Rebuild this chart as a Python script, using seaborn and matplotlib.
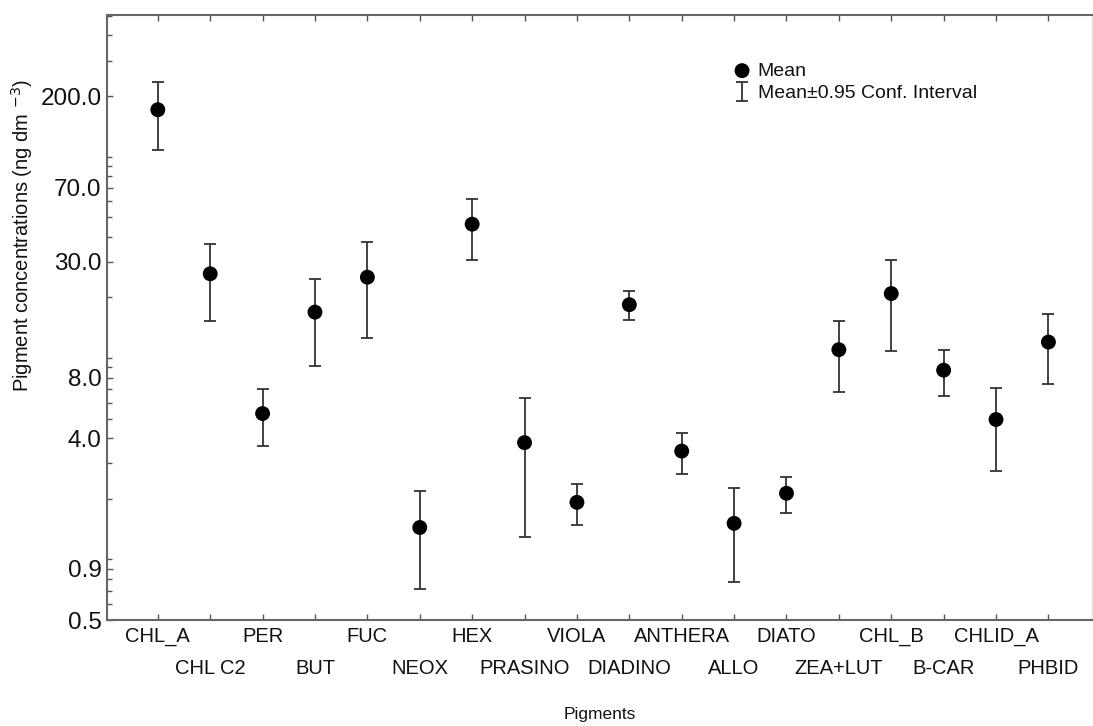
import numpy as np
import pandas as pd
import seaborn as sns
import matplotlib
matplotlib.use("Agg")
import matplotlib.pyplot as plt
from matplotlib.ticker import FixedLocator, FixedFormatter, LogLocator, NullFormatter

# Pigment means with lower / upper 95% confidence limits (ng dm-3)
pigments = ["CHL_A", "CHL C2", "PER", "BUT", "FUC", "NEOX", "HEX", "PRASINO",
            "VIOLA", "DIADINO", "ANTHERA", "ALLO", "DIATO", "ZEA+LUT", "CHL_B",
            "B-CAR", "CHLID_A", "PHBID"]
mean_vals = [171.0, 26.2, 5.3, 16.9, 25.2, 1.44, 46.2, 3.8,
             1.92, 18.4, 3.45, 1.51, 2.13, 11.0, 20.9, 8.7, 4.95, 12.0]
ci_low = [108.0, 15.2, 3.65, 9.1, 12.6, 0.71, 30.6, 1.29,
          1.48, 15.5, 2.65, 0.77, 1.69, 6.8, 10.8, 6.5, 2.75, 7.4]
ci_high = [234.0, 36.9, 7.0, 24.8, 37.7, 2.19, 61.9, 6.3,
           2.37, 21.4, 4.25, 2.25, 2.57, 15.2, 30.8, 11.0, 7.1, 16.6]

y_ticks = [0.5, 0.9, 4.0, 8.0, 30.0, 70.0, 200.0]
y_tick_labels = ["0.5", "0.9", "4.0", "8.0", "30.0", "70.0", "200.0"]

df = pd.DataFrame({"pigment": pigments, "mean": mean_vals,
                   "low": ci_low, "high": ci_high})

sns.set_theme(style="ticks")
plt.rcParams["font.family"] = ["Liberation Sans", "DejaVu Sans"]
plt.rcParams["text.color"] = "#111111"
plt.rcParams["axes.labelcolor"] = "#111111"

fig = plt.figure(figsize=(10.93, 7.26), dpi=100)
ax = fig.add_axes([0.0979, 0.146, 0.9011, 0.8333])

xpos = np.arange(len(df))
err = np.vstack([df["mean"] - df["low"], df["high"] - df["mean"]])
eb = ax.errorbar(xpos, df["mean"], yerr=err, fmt="none", ecolor="#333333",
                 elinewidth=1.3, capsize=4.5, capthick=1.3, zorder=2)
sns.scatterplot(data=df, x=xpos, y="mean", ax=ax, color="black", s=115,
                edgecolor="none", zorder=3, legend=False)

ax.set_yscale("log")
ax.set_ylim(0.5, 505)
ax.set_xlim(-0.97, 17.83)

ax.yaxis.set_major_locator(FixedLocator(y_ticks))
ax.yaxis.set_major_formatter(FixedFormatter(y_tick_labels))
ax.yaxis.set_minor_locator(LogLocator(base=10, subs=np.arange(1, 10), numticks=20))
ax.yaxis.set_minor_formatter(NullFormatter())

# pigment names alternate between two label rows
ax.set_xticks(xpos)
ax.set_xticklabels(pigments)
for i, tick in enumerate(ax.xaxis.get_major_ticks()):
    tick.set_pad(5 if i % 2 == 0 else 28)

ax.tick_params(axis="x", which="both", direction="in", top=True, bottom=True,
               length=4, width=1, color="#555555", labelsize=14.5,
               labelcolor="#111111")
ax.tick_params(axis="y", which="major", direction="in", length=4, width=1,
               color="#555555", labelsize=17.5, pad=4, labelcolor="#111111")
ax.tick_params(axis="y", which="minor", direction="in", length=3.5, width=1,
               color="#555555")

for side in ["left", "bottom", "top"]:
    ax.spines[side].set_color("#666666")
    ax.spines[side].set_linewidth(1.5)
ax.spines["right"].set_color("#e4e4e4")
ax.spines["right"].set_linewidth(1.0)

ax.set_xlabel("Pigments", fontsize=12.5, va="top")
ax.xaxis.set_label_coords(0.5, -0.144)
ax.set_ylabel("Pigment concentrations (ng dm $^{-3}$)", fontsize=14.5)
ax.yaxis.set_label_coords(-0.073, 0.636)

handles = [ax.collections[-1], eb]
ax.legend(handles=handles, labels=["Mean", "Mean\u00b10.95 Conf. Interval"],
          loc="upper left", bbox_to_anchor=(0.628, 0.935), frameon=False,
          fontsize=14, handlelength=0.9, handletextpad=0.35,
          labelspacing=0.25, borderaxespad=0)

fig.savefig("out.png", dpi=100)
